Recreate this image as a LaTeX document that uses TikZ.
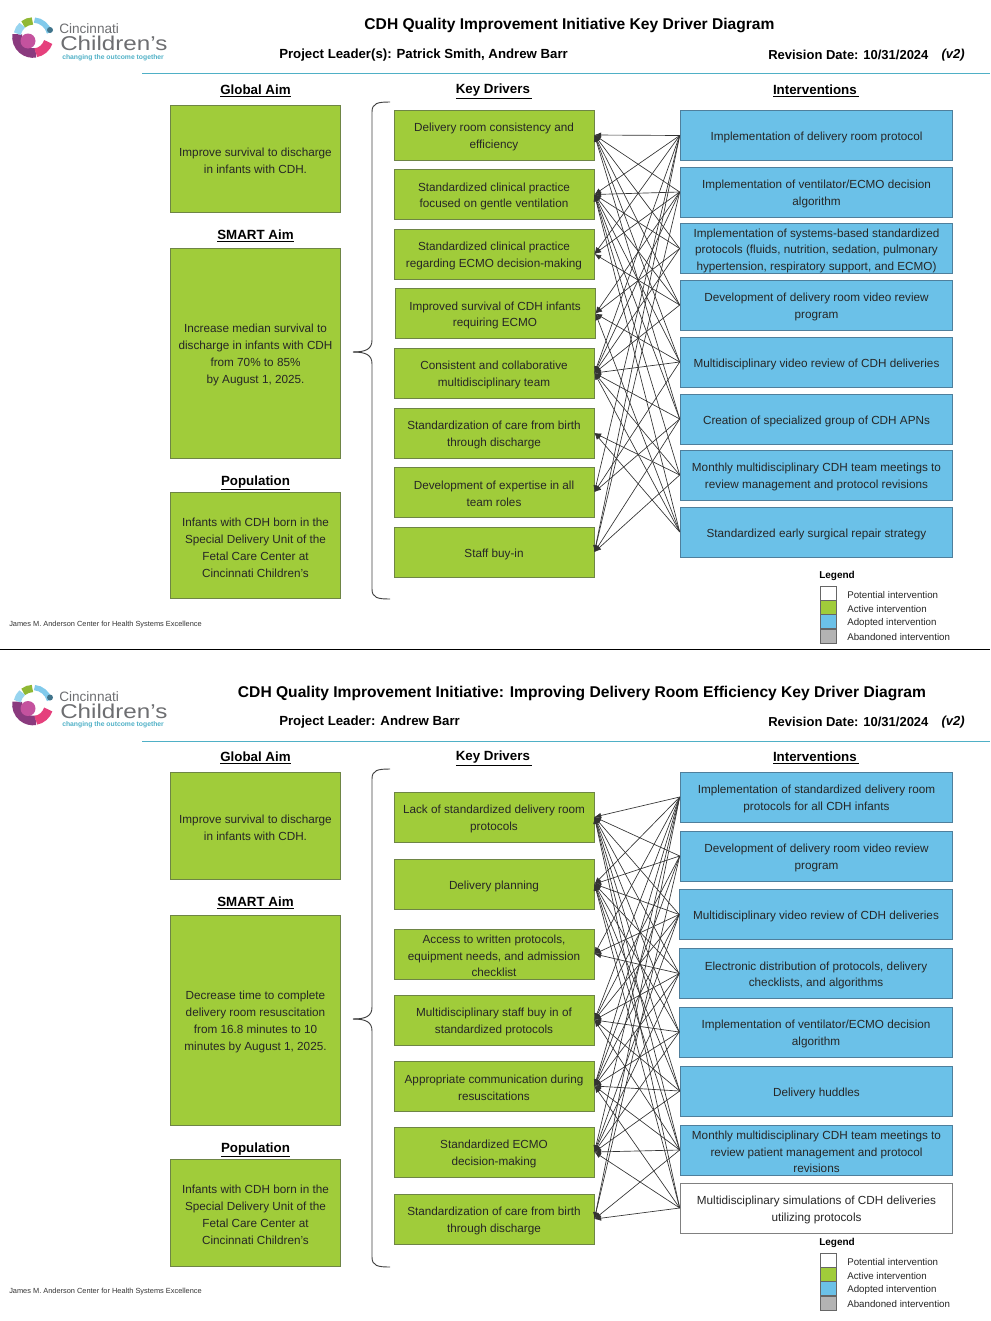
\documentclass[tikz,border=0pt]{standalone}
\usepackage{fontspec}
\setmainfont{Liberation Sans}
\usepackage{graphicx}
\usepackage{tikz}
\usetikzlibrary{shapes,arrows,arrows.meta}
\definecolor{aimGreen}{HTML}{A0CC3A}
\definecolor{aimEdge}{HTML}{6E8545}
\definecolor{adoptBlue}{HTML}{6BC1E8}
\definecolor{adoptEdge}{HTML}{4F7F9C}
\definecolor{abandonGray}{HTML}{B3B3B3}
\definecolor{ruleTeal}{HTML}{4FB0C6}
\definecolor{logoGray}{HTML}{6D6E71}
\definecolor{logoPurple}{HTML}{8A3A7E}
\definecolor{logoPink}{HTML}{E5407C}
\definecolor{logoOrchid}{HTML}{C4529E}
\newcommand{\lowerText}{\rule{0pt}{9.4pt}}
\tikzstyle{aim} = [rectangle, draw=aimEdge, line width=0.7pt, fill=aimGreen, minimum width=128pt, align=center, font=\fontsize{8.8}{12.7}\selectfont, inner sep=0pt, text=black!85]
\tikzstyle{driver} = [rectangle, draw=aimEdge, line width=0.7pt, fill=aimGreen, minimum width=150pt, minimum height=37.5pt, align=center, font=\fontsize{8.8}{12.4}\selectfont, inner sep=0pt, text=black!85]
\tikzstyle{intervention} = [rectangle, draw=adoptEdge, line width=0.7pt, fill=adoptBlue, minimum width=204.5pt, minimum height=37.5pt, align=center, font=\fontsize{8.8}{12.4}\selectfont, inner sep=0pt, text=black!85]
\tikzstyle{potential} = [intervention, draw=black!50, fill=white]
\tikzstyle{heading} = [font=\fontsize{10}{12}\selectfont\bfseries, inner sep=0pt]
\tikzstyle{title} = [font=\fontsize{11.7}{14}\selectfont\bfseries, inner sep=0pt]
\tikzstyle{subtitle} = [font=\fontsize{9.75}{12}\selectfont\bfseries, inner sep=0pt]
\tikzstyle{footer} = [font=\fontsize{5.55}{6}\selectfont, inner sep=0pt, anchor=west, text=black!80]
\tikzstyle{legendbox} = [rectangle, draw=black!60, line width=0.6pt, minimum width=12.5pt, minimum height=10.6pt, inner sep=0pt]
\tikzstyle{legendtext} = [font=\fontsize{7.3}{9}\selectfont, inner sep=0pt, anchor=west, text=black!85]
\tikzstyle{arrow} = [draw, -{Latex[length=5pt,width=4pt]}, line width=0.5pt, black!80]
\tikzstyle{rule} = [draw, line width=0.7pt, ruleTeal]
\tikzstyle{brace} = [draw, line width=0.7pt, black!75]

% logo, #1 = vertical shift, #2 = name prefix
\newcommand{\ccLogo}[2]{
	\begin{scope}[yshift=#1*-0.75pt]
		\draw [line width=7.2pt, logoPurple] ([shift={(-170:16)}]33,37) arc (-170:-280:16);
		\draw [line width=6.8pt, logoPink] ([shift={(-280:16)}]33,37) arc (-280:-342:16);
		\draw [line width=4pt, adoptBlue!85!white] ([shift={(-15:17)}]33,37) arc (-15:-85:17);
		\draw [line width=5.5pt, aimGreen!90!black] ([shift={(-92:16)}]33,37) arc (-92:-128:16);
		\draw [line width=5.5pt, adoptBlue!70!white] ([shift={(-132:16)}]33,37) arc (-132:-168:16);
		\fill [adoptBlue!60!black] (50,30) circle (3);
		\fill [logoOrchid] (28,41) circle (7.5);
		\node [inner sep=0pt, anchor=west, text=logoGray, font=\fontsize{10.2}{11}\selectfont] (#2Cincinnati) at (59,29) {Cincinnati};
		\node [inner sep=0pt, anchor=west, text=logoGray, font=\fontsize{15}{16}\selectfont] (#2Childrens) at (60,43.5) {\scalebox{1.21}[1]{Children’s}};
		\node [inner sep=0pt, anchor=west, text=ruleTeal, font=\fontsize{5.1}{5}\selectfont\bfseries] (#2Tagline) at (62,57.5) {changing the outcome together};
	\end{scope}
}

\begin{document}
\begin{tikzpicture}[x=0.75pt, y=-0.75pt]
	\useasboundingbox (0,0) rectangle (990,1321);

	% First diagram
	\ccLogo{0}{top}
	\node [title] (topTitle) at (569.5,25) {CDH Quality Improvement Initiative Key Driver Diagram};
	\node [subtitle, anchor=west, font=\fontsize{9.92}{12}\selectfont\bfseries] (topLeader) at (279,55) {Project Leader(s): Patrick Smith, Andrew Barr};
	\node [subtitle, anchor=west] (topRevision) at (768,55) {Revision Date: 10/31/2024};
	\node [subtitle, anchor=east] (topVersion) at (965,55) {\itshape (v2)};
	\coordinate (topRuleStart) at (142,73);
	\coordinate (topRuleEnd) at (990,73);
	\path [rule] (topRuleStart) -- (topRuleEnd);

	% Place nodes
	\node [heading] (topGlobalHead) at (255.5,91) {\underline{Global Aim}};
	\node [heading] (topDriverHead) at (494,91.5) {\underline{Key Drivers\,}};
	\node [heading] (topInterHead) at (816,91) {\underline{Interventions\,}};
	\node [heading] (topSmartHead) at (255.5,236) {\underline{SMART Aim}};
	\node [heading] (topPopHead) at (255.5,483) {\underline{Population}};

	\node [aim, minimum height=80pt] (topGlobal) at (255.5,159) {\lowerText Improve survival to discharge\\in infants with CDH.};
	\node [aim, minimum height=157.5pt] (topSmart) at (255.5,353) {\lowerText Increase median survival to\\discharge in infants with CDH\\from 70\% to 85\%\\by August 1, 2025.};
	\node [aim, minimum height=80pt] (topPop) at (255.5,545.5) {\lowerText Infants with CDH born in the\\Special Delivery Unit of the\\Fetal Care Center at\\Cincinnati Children's};

	\node [driver] (topDriver1) at (494,135) {\lowerText Delivery room consistency and\\efficiency};
	\node [driver] (topDriver2) at (494,194.5) {\lowerText Standardized clinical practice\\focused on gentle ventilation};
	\node [driver] (topDriver3) at (494,254) {\lowerText Standardized clinical practice\\regarding ECMO decision-making};
	\node [driver] (topDriver4) at (495,313.5) {\lowerText Improved survival of CDH infants\\requiring ECMO};
	\node [driver] (topDriver5) at (494,373) {\lowerText Consistent and collaborative\\multidisciplinary team};
	\node [driver] (topDriver6) at (494,433) {\lowerText Standardization of care from birth\\through discharge};
	\node [driver] (topDriver7) at (494,492) {\lowerText Development of expertise in all\\team roles};
	\node [driver] (topDriver8) at (494,552) {\lowerText Staff buy-in};

	\node [intervention] (topInter1) at (816.5,135.5) {\lowerText Implementation of delivery room protocol};
	\node [intervention] (topInter2) at (816.5,192) {\lowerText Implementation of ventilator/ECMO decision\\algorithm};
	\node [intervention] (topInter3) at (816.5,248.5) {\lowerText Implementation of systems-based standardized\\protocols (fluids, nutrition, sedation, pulmonary\\hypertension, respiratory support, and ECMO)};
	\node [intervention] (topInter4) at (816.5,305) {\lowerText Development of delivery room video review\\program};
	\node [intervention] (topInter5) at (816.5,362) {\lowerText Multidisciplinary video review of CDH deliveries};
	\node [intervention] (topInter6) at (816.5,419) {\lowerText Creation of specialized group of CDH APNs};
	\node [intervention] (topInter7) at (816.5,475) {\lowerText Monthly multidisciplinary CDH team meetings to\\review management and protocol revisions};
	\node [intervention] (topInter8) at (816.5,532) {\lowerText Standardized early surgical repair strategy};

	\foreach \from/\to in {1/1,1/2,1/3,1/5,1/7,1/8,
		2/1,2/2,2/3,2/4,2/5,2/8,
		3/1,3/2,3/4,3/5,
		4/1,4/2,4/3,4/5,
		5/1,5/2,5/4,5/5,5/7,
		6/1,6/2,6/5,6/7,6/8,
		7/2,7/5,7/6,7/8,
		8/2,8/4,8/5,8/6}
		\path [arrow] (topInter\from.west) -- (topDriver\to.east);

	\coordinate (topBraceTop) at (390,102);
	\coordinate (topBraceTip) at (353,352);
	\coordinate (topBraceBottom) at (390,599);
	\path [brace] (topBraceTop) .. controls (378,102) and (372,103) .. (372,112) -- (372,340) .. controls (372,349) and (366,352) .. (topBraceTip);
	\path [brace] (topBraceTip) .. controls (366,352) and (372,355) .. (372,364) -- (372,589) .. controls (372,598) and (378,599) .. (topBraceBottom);

	\node [footer] (topFooter) at (9,624.5) {James M. Anderson Center for Health Systems Excellence};
	\node [inner sep=0pt, anchor=west, font=\fontsize{7.5}{9}\selectfont\bfseries] (topLegend) at (819,575.5) {Legend};
	\node [legendbox, fill=white] (topLegendA) at (828.5,593) {};
	\node [legendbox, fill=aimGreen] (topLegendB) at (828.5,607.3) {};
	\node [legendbox, fill=adoptBlue] (topLegendC) at (828.5,621.5) {};
	\node [legendbox, fill=abandonGray] (topLegendD) at (828.5,636) {};
	\node [legendtext] (topLegendTextA) at (847,595) {Potential intervention};
	\node [legendtext] (topLegendTextB) at (847,609) {Active intervention};
	\node [legendtext] (topLegendTextC) at (847,623) {Adopted intervention};
	\node [legendtext] (topLegendTextD) at (847,637) {Abandoned intervention};

	\coordinate (pageRuleStart) at (0,649.5);
	\coordinate (pageRuleEnd) at (990,649.5);
	\path [draw, line width=0.7pt, black] (pageRuleStart) -- (pageRuleEnd);

	% Second diagram
	\ccLogo{667.5}{bot}
	\node [title] (botTitle) at (582,693) {CDH Quality Improvement Initiative: Improving Delivery Room Efficiency Key Driver Diagram};
	\node [subtitle, anchor=west, font=\fontsize{9.92}{12}\selectfont\bfseries] (botLeader) at (279,722) {Project Leader: Andrew Barr};
	\node [subtitle, anchor=west] (botRevision) at (768,722) {Revision Date: 10/31/2024};
	\node [subtitle, anchor=east] (botVersion) at (965,722) {\itshape (v2)};
	\coordinate (botRuleStart) at (142,741);
	\coordinate (botRuleEnd) at (990,741);
	\path [rule] (botRuleStart) -- (botRuleEnd);

	% Place nodes
	\node [heading] (botGlobalHead) at (255.5,758) {\underline{Global Aim}};
	\node [heading] (botDriverHead) at (494,758.5) {\underline{Key Drivers\,}};
	\node [heading] (botInterHead) at (816,758) {\underline{Interventions\,}};
	\node [heading] (botSmartHead) at (255.5,903) {\underline{SMART Aim}};
	\node [heading] (botPopHead) at (255.5,1150) {\underline{Population}};

	\node [aim, minimum height=80pt] (botGlobal) at (255.5,826) {\lowerText Improve survival to discharge\\in infants with CDH.};
	\node [aim, minimum height=157.5pt] (botSmart) at (255.5,1020) {\lowerText Decrease time to complete\\delivery room resuscitation\\from 16.8 minutes to 10\\minutes by August 1, 2025.};
	\node [aim, minimum height=80pt] (botPop) at (255.5,1213) {\lowerText Infants with CDH born in the\\Special Delivery Unit of the\\Fetal Care Center at\\Cincinnati Children's};

	\node [driver] (botDriver1) at (494,817) {\lowerText Lack of standardized delivery room\\protocols};
	\node [driver] (botDriver2) at (494,884) {\lowerText Delivery planning};
	\node [driver] (botDriver3) at (494,954) {\lowerText Access to written protocols,\\equipment needs, and admission\\checklist};
	\node [driver] (botDriver4) at (494,1020) {\lowerText Multidisciplinary staff buy in of\\standardized protocols};
	\node [driver] (botDriver5) at (494,1086) {\lowerText Appropriate communication during\\resuscitations};
	\node [driver] (botDriver6) at (494,1152) {\lowerText Standardized ECMO\\decision-making};
	\node [driver] (botDriver7) at (494,1219) {\lowerText Standardization of care from birth\\through discharge};

	\node [intervention] (botInter1) at (816.5,797) {\lowerText Implementation of standardized delivery room\\protocols for all CDH infants};
	\node [intervention] (botInter2) at (816.5,856) {\lowerText Development of delivery room video review\\program};
	\node [intervention] (botInter3) at (816,914.5) {\lowerText Multidisciplinary video review of CDH deliveries};
	\node [intervention] (botInter4) at (816,973.5) {\lowerText Electronic distribution of protocols, delivery\\checklists, and algorithms};
	\node [intervention] (botInter5) at (816,1032) {\lowerText Implementation of ventilator/ECMO decision\\algorithm};
	\node [intervention] (botInter6) at (816.5,1091) {\lowerText Delivery huddles};
	\node [intervention] (botInter7) at (816.5,1150) {\lowerText Monthly multidisciplinary CDH team meetings to\\review patient management and protocol\\revisions};
	\node [potential] (botInter8) at (816.5,1208) {\lowerText Multidisciplinary simulations of CDH deliveries\\utilizing protocols};

	\foreach \from/\to in {1/1,1/2,1/3,1/4,1/5,1/6,1/7,
		2/1,2/2,2/4,2/5,2/7,
		3/1,3/2,3/3,3/4,3/5,3/6,
		4/1,4/2,4/3,4/4,4/5,4/6,
		5/1,5/2,5/4,5/5,5/6,
		6/1,6/2,6/4,6/5,6/6,
		7/1,7/2,7/4,7/5,7/6,7/7,
		8/1,8/2,8/5,8/6,8/7}
		\path [arrow] (botInter\from.west) -- (botDriver\to.east);

	\coordinate (botBraceTop) at (390,769);
	\coordinate (botBraceTip) at (353,1019);
	\coordinate (botBraceBottom) at (390,1267);
	\path [brace] (botBraceTop) .. controls (378,769) and (372,770) .. (372,779) -- (372,1007) .. controls (372,1016) and (366,1019) .. (botBraceTip);
	\path [brace] (botBraceTip) .. controls (366,1019) and (372,1022) .. (372,1031) -- (372,1257) .. controls (372,1266) and (378,1267) .. (botBraceBottom);

	\node [footer] (botFooter) at (9,1291.5) {James M. Anderson Center for Health Systems Excellence};
	\node [inner sep=0pt, anchor=west, font=\fontsize{7.5}{9}\selectfont\bfseries] (botLegend) at (819,1242.5) {Legend};
	\node [legendbox, fill=white] (botLegendA) at (828.5,1260) {};
	\node [legendbox, fill=aimGreen] (botLegendB) at (828.5,1274.3) {};
	\node [legendbox, fill=adoptBlue] (botLegendC) at (828.5,1288.5) {};
	\node [legendbox, fill=abandonGray] (botLegendD) at (828.5,1303) {};
	\node [legendtext] (botLegendTextA) at (847,1262) {Potential intervention};
	\node [legendtext] (botLegendTextB) at (847,1276) {Active intervention};
	\node [legendtext] (botLegendTextC) at (847,1290) {Adopted intervention};
	\node [legendtext] (botLegendTextD) at (847,1304) {Abandoned intervention};
\end{tikzpicture}
\end{document}
